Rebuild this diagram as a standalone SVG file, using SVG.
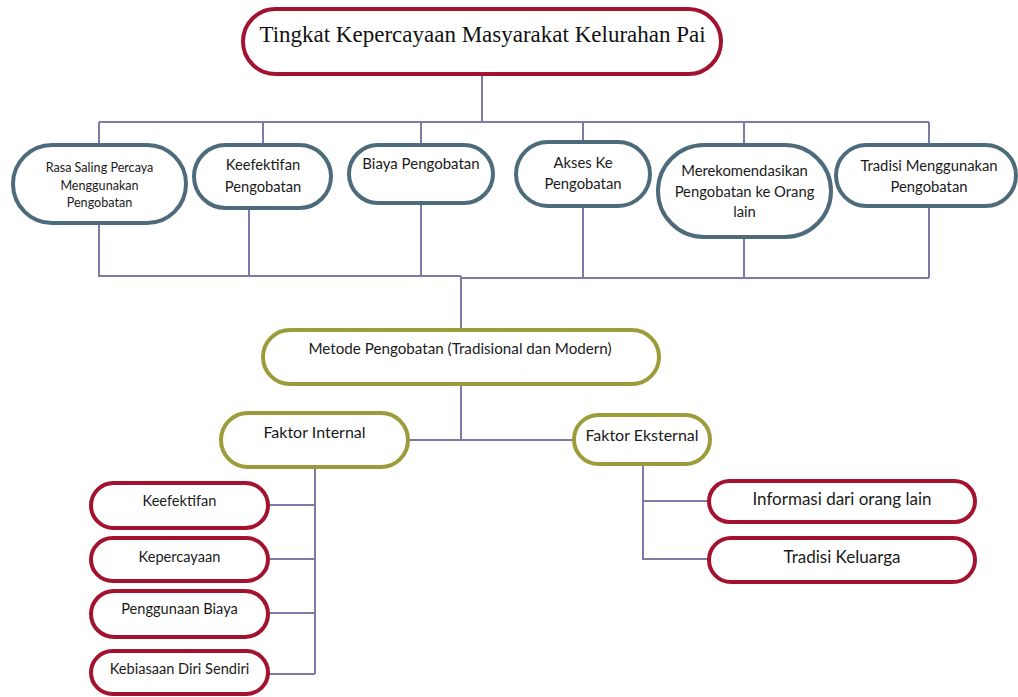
<svg xmlns="http://www.w3.org/2000/svg" width="1018" height="697" viewBox="0 0 1018 697">
<style>
.bg{fill:#ffffff}
.red{fill:#ffffff;stroke:#A3122F;stroke-width:4}
.blue{fill:#ffffff;stroke:#4E6B7B;stroke-width:4}
.olive{fill:#ffffff;stroke:#9C9C3B;stroke-width:4}
.conn{fill:none;stroke:#7B7BA5;stroke-width:2}
.t{font-family:Lato,"Open Sans","Liberation Sans",sans-serif;fill:#1a1a1a;text-anchor:middle}
.title{font-family:"Liberation Serif","Times New Roman",serif;font-size:23px;fill:#111;text-anchor:middle}
</style>
<rect class="bg" x="0" y="0" width="1018" height="697"/>
<g id="connectors">
<path class="conn" d="M482 74V122M99 122H929M99 122V144M263 122V144M421 122V144M583 122V141M744 122V144M929 122V144"/>
<path class="conn" d="M99 224V276H461M249 209V276M421 204V276M461 276V278H929M583 207V278M744 238V278M929 207V278M461 276V329"/>
<path class="conn" d="M461 385V440M409 440H573"/>
<path class="conn" d="M315 468V674M269 505H315M269 559H315M269 613H315M269 674H315"/>
<path class="conn" d="M643 465V559H708M643 501H708"/>
</g>
<g id="n-title">
<rect class="red" x="243" y="9" width="478" height="65" rx="32.5"/>
<text class="title" x="482.5" y="42">Tingkat Kepercayaan Masyarakat Kelurahan Pai</text>
</g>
<g id="n-rasa">
<rect class="blue" x="13" y="145" width="173" height="78" rx="39"/>
<text class="t" font-size="12.6" x="99.5" y="172">Rasa Saling Percaya</text>
<text class="t" font-size="12.6" x="99.5" y="190">Menggunakan</text>
<text class="t" font-size="12.6" x="99.5" y="207">Pengobatan</text>
</g>
<g id="n-keef">
<rect class="blue" x="194" y="145" width="137" height="63" rx="31.5"/>
<text class="t" font-size="14.7" x="263" y="170">Keefektifan</text>
<text class="t" font-size="14.7" x="263" y="192">Pengobatan</text>
</g>
<g id="n-biaya">
<rect class="blue" x="349" y="145" width="144" height="58" rx="29"/>
<text class="t" font-size="15" x="421" y="169">Biaya Pengobatan</text>
</g>
<g id="n-akses">
<rect class="blue" x="516" y="142" width="134" height="64" rx="32"/>
<text class="t" font-size="14.8" x="583" y="168">Akses Ke</text>
<text class="t" font-size="14.8" x="583" y="189">Pengobatan</text>
</g>
<g id="n-merek">
<rect class="blue" x="658" y="145" width="173" height="92" rx="46"/>
<text class="t" font-size="14.8" x="744.5" y="176">Merekomendasikan</text>
<text class="t" font-size="14.8" x="744.5" y="197">Pengobatan ke Orang</text>
<text class="t" font-size="14.8" x="744.5" y="217">lain</text>
</g>
<g id="n-tradisi">
<rect class="blue" x="836" y="145" width="180" height="61" rx="30.5"/>
<text class="t" font-size="14.8" x="929" y="171">Tradisi Menggunakan</text>
<text class="t" font-size="14.8" x="929" y="192">Pengobatan</text>
</g>
<g id="n-metode">
<rect class="olive" x="263" y="330" width="396" height="54" rx="27"/>
<text class="t" font-size="15.2" x="460" y="354">Metode Pengobatan (Tradisional dan Modern)</text>
</g>
<g id="n-internal">
<rect class="olive" x="221" y="413" width="187" height="54" rx="27"/>
<text class="t" font-size="16" x="314.5" y="438">Faktor Internal</text>
</g>
<g id="n-eksternal">
<rect class="olive" x="574" y="415" width="136" height="49" rx="24.5"/>
<text class="t" font-size="16" x="642" y="441">Faktor Eksternal</text>
</g>
<g id="n-i1">
<rect class="red" x="91" y="483" width="177" height="45" rx="22.5"/>
<text class="t" font-size="14.6" x="179.5" y="506">Keefektifan</text>
</g>
<g id="n-i2">
<rect class="red" x="91" y="538" width="177" height="43" rx="21.5"/>
<text class="t" font-size="14.6" x="179.5" y="562">Kepercayaan</text>
</g>
<g id="n-i3">
<rect class="red" x="91" y="591" width="177" height="46" rx="23"/>
<text class="t" font-size="14.6" x="179.5" y="614">Penggunaan Biaya</text>
</g>
<g id="n-i4">
<rect class="red" x="91" y="651" width="177" height="43" rx="21.5"/>
<text class="t" font-size="14.6" x="179.5" y="674">Kebiasaan Diri Sendiri</text>
</g>
<g id="n-e1">
<rect class="red" x="709" y="481" width="266" height="41" rx="20.5"/>
<text class="t" font-size="17" x="842" y="505">Informasi dari orang lain</text>
</g>
<g id="n-e2">
<rect class="red" x="709" y="538" width="266" height="44" rx="22"/>
<text class="t" font-size="17" x="842" y="563">Tradisi Keluarga</text>
</g>
</svg>
